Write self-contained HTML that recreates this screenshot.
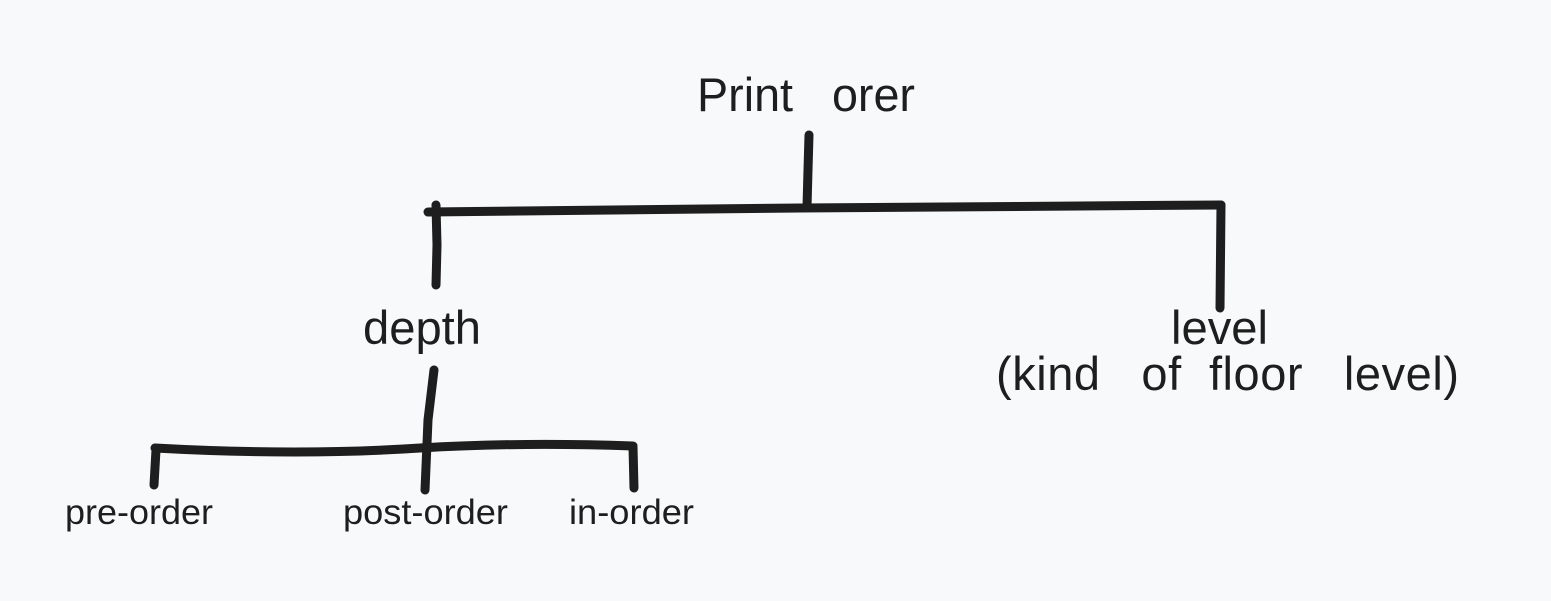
<!DOCTYPE html>
<html><head><meta charset="utf-8"><style>
html,body{margin:0;padding:0;background:#f8f9fa;}
svg{display:block}
text{font-family:"Liberation Sans",sans-serif;fill:#1e1e1e}
</style></head><body>
<svg width="1551" height="601" viewBox="0 0 1551 601">
<rect width="1551" height="601" fill="#f8f9fa"/>
<g stroke="#1e1e1e" stroke-width="9" stroke-linecap="round" stroke-linejoin="round" fill="none">
<path d="M809 135 L808 170 L807 207"/>
<path d="M428 212 L800 208 L1221 205"/>
<path d="M436 205 L437 245 L436 285"/>
<path d="M1221 205 L1220 308"/>
<path d="M434 370 L428 420 L425 490"/>
<path d="M155 448 Q300 456 420 448 Q520 442 633 446"/>
<path d="M156 450 L154 485"/>
<path d="M633 447 L634 488"/>
</g>
<text x="697" y="111" font-size="47" xml:space="preserve" textLength="218" lengthAdjust="spacingAndGlyphs">Print   orer</text>
<text x="363" y="344" font-size="47" textLength="118" lengthAdjust="spacingAndGlyphs">depth</text>
<text x="1171" y="344" font-size="47" textLength="97" lengthAdjust="spacingAndGlyphs">level</text>
<text x="996" y="390" font-size="47" xml:space="preserve" textLength="463" lengthAdjust="spacing">(kind   of  floor   level)</text>
<text x="65" y="524" font-size="35" textLength="148" lengthAdjust="spacingAndGlyphs">pre-order</text>
<text x="343" y="524" font-size="35" textLength="165" lengthAdjust="spacingAndGlyphs">post-order</text>
<text x="569" y="524" font-size="35" textLength="125" lengthAdjust="spacingAndGlyphs">in-order</text>
</svg>
</body></html>
